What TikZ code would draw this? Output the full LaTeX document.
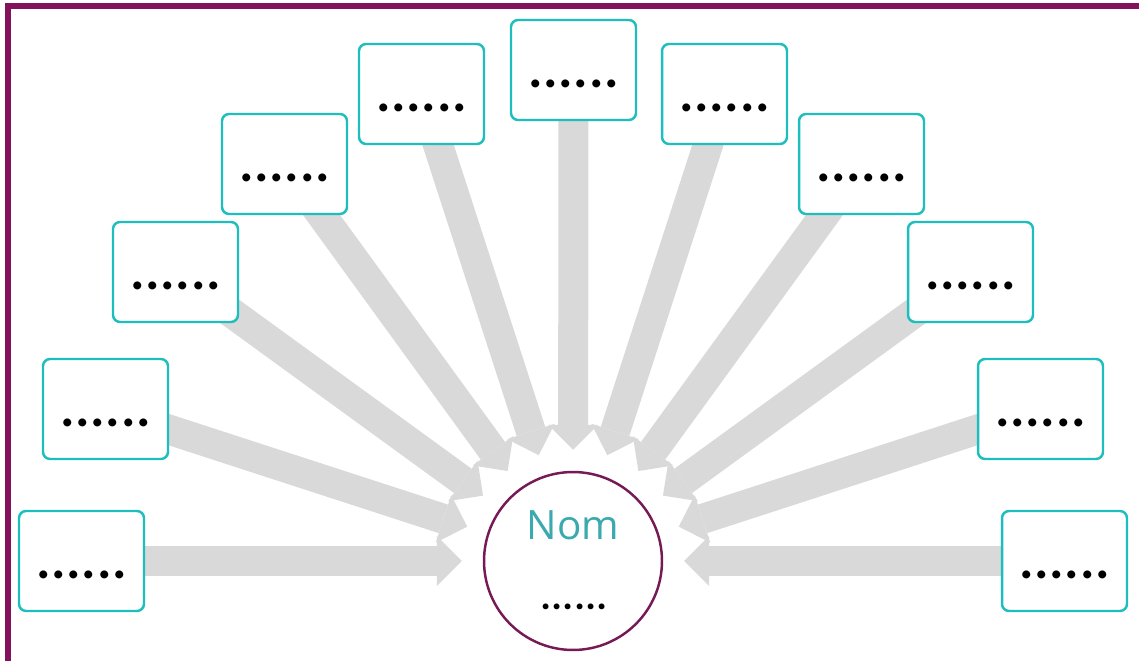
\documentclass[tikz,border=0pt]{standalone}
\usepackage{fontspec}
\setmainfont{Open Sans}
\newfontfamily\dotsfont[LetterSpace=5]{Lato}
\usetikzlibrary{arrows.meta,backgrounds}
\definecolor{framepurple}{HTML}{84115C}
\definecolor{ringpurple}{HTML}{751A55}
\definecolor{boxteal}{HTML}{1FBEBE}
\definecolor{nomteal}{HTML}{3BA9AE}
\definecolor{arrowgray}{HTML}{D9D9D9}

\begin{document}
\begin{tikzpicture}[x=0.02cm, y=-0.02cm,
  dotbox/.style={rectangle, draw=boxteal, line width=1.4pt, rounded corners=4pt, fill=white,
    minimum width=2.5cm, minimum height=2cm, inner sep=0pt, text height=0.72cm, text depth=0pt,
    font=\dotsfont\bfseries\fontsize{30}{34}\selectfont},
  hub/.style={circle, draw=ringpurple, line width=1.4pt, fill=white, minimum size=3.56cm, inner sep=0pt},
  arr/.style={-{Triangle[length=0.5cm, width=1cm, line width=0pt]}, line width=0.6cm, draw=arrowgray, shorten >=0.42cm}
]
  \useasboundingbox (0,0) rectangle (1139,661);
  % outer frame (left and top only)
  \draw[framepurple, line width=0.12cm] (8,661) -- (8,6) -- (1139,6);

  \node[hub] (nom) at (573,561) {};
  \node[anchor=base, text=nomteal, font=\fontsize{23}{27}\selectfont] (nomlabel) at (573,540) {Nom};
  \node[anchor=base, font=\dotsfont\bfseries\fontsize{22}{24}\selectfont] (nomdots) at (574,610) {......};

  \node[dotbox] (b1) at (81.5,561) {......};
  \node[dotbox] (b2) at (105.5,409) {......};
  \node[dotbox] (b3) at (175.5,272) {......};
  \node[dotbox] (b4) at (284.5,164) {......};
  \node[dotbox] (b5) at (421.5,94) {......};
  \node[dotbox] (b6) at (573.5,70) {......};
  \node[dotbox] (b7) at (724.5,94) {......};
  \node[dotbox] (b8) at (861.5,164) {......};
  \node[dotbox] (b9) at (970.5,272) {......};
  \node[dotbox] (b10) at (1040.5,409) {......};
  \node[dotbox] (b11) at (1064.5,561) {......};

  \begin{scope}[on background layer]
    \draw[arr] (b1.center) -- (nom);
    \draw[arr] (b2.center) -- (nom);
    \draw[arr] (b3.center) -- (nom);
    \draw[arr] (b4.center) -- (nom);
    \draw[arr] (b5.center) -- (nom);
    \draw[arr] (b6.center) -- (nom);
    \draw[arr] (b7.center) -- (nom);
    \draw[arr] (b8.center) -- (nom);
    \draw[arr] (b9.center) -- (nom);
    \draw[arr] (b10.center) -- (nom);
    \draw[arr] (b11.center) -- (nom);
  \end{scope}
\end{tikzpicture}
\end{document}
